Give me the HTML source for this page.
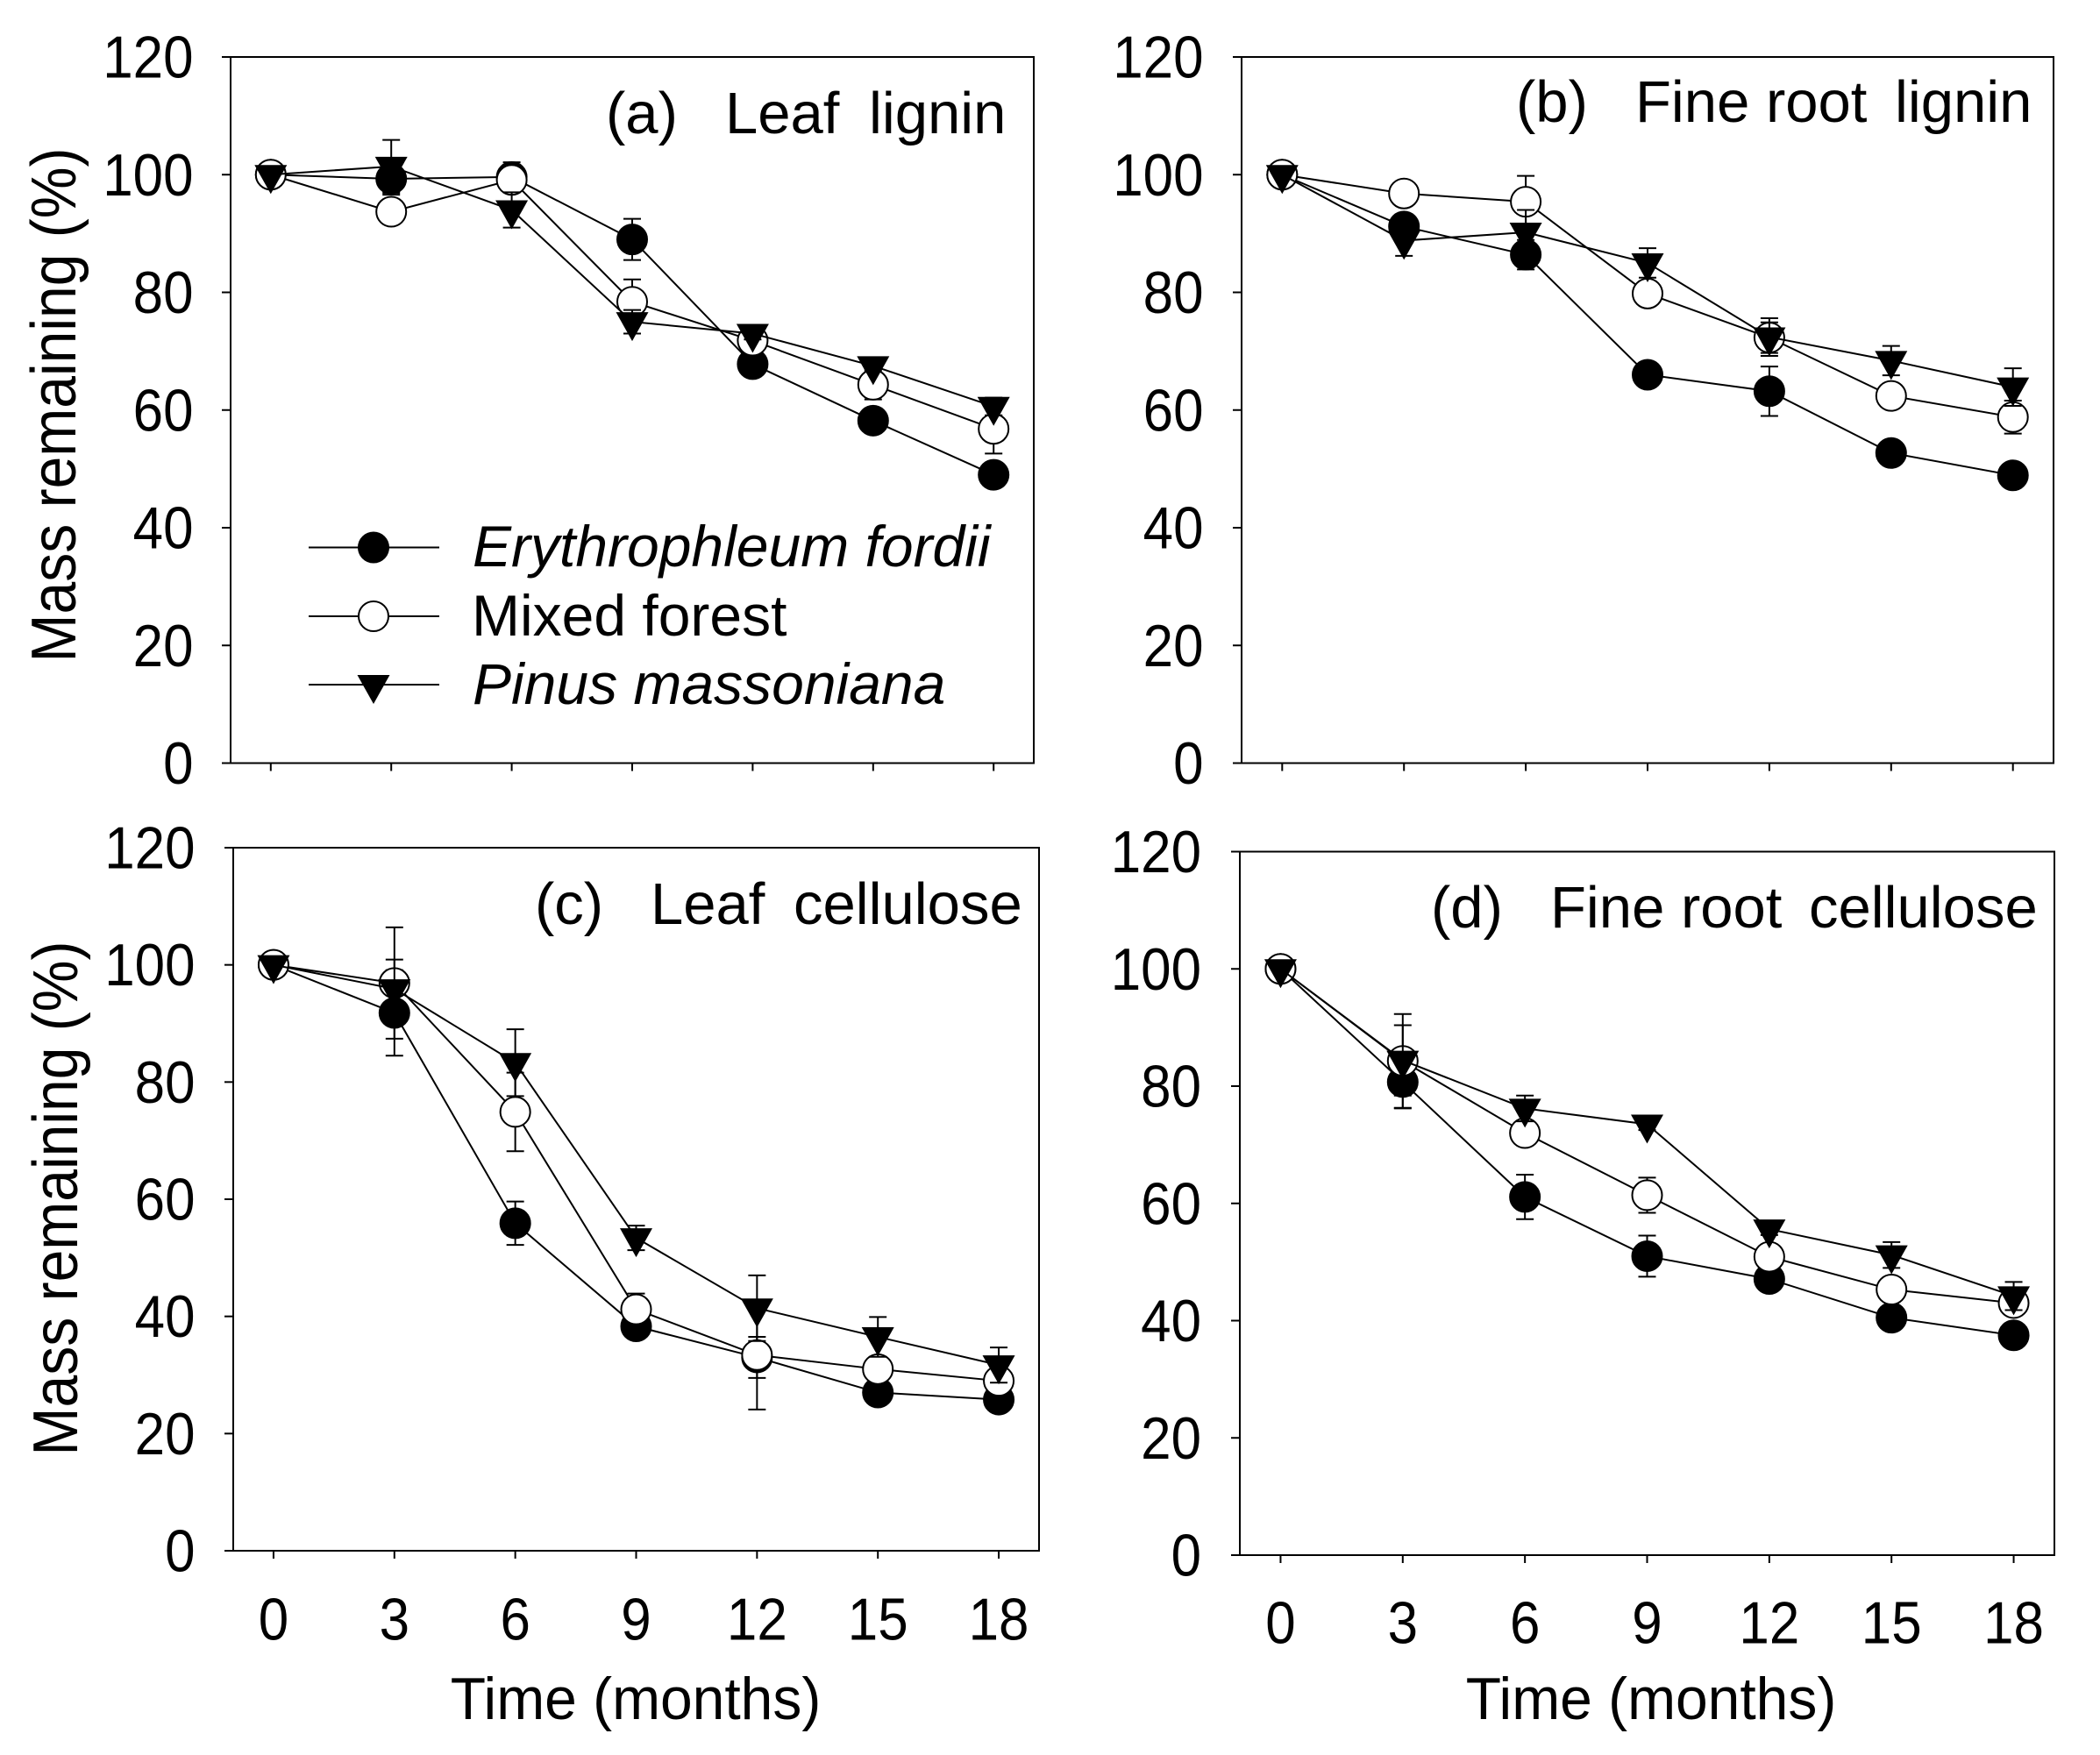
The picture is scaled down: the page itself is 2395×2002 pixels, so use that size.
<!DOCTYPE html>
<html lang="en">
<head>
<meta charset="utf-8">
<title>Mass remaining over time</title>
<style>
html,body{margin:0;padding:0;background:#fff;}
svg{display:block;font-family:"Liberation Sans",Arial,sans-serif;fill:#000;}
</style>
</head>
<body>
<svg id="chart" xmlns="http://www.w3.org/2000/svg" width="2395" height="2002" viewBox="0 0 2395 2002">
  <rect x="0" y="0" width="2395" height="2002" fill="#fff"/>

  <text y="152" font-size="67"><tspan x="691">(a)</tspan><tspan x="827">Leaf</tspan><tspan x="991">lignin</tspan></text>
  <text y="139" font-size="67"><tspan x="1729">(b)</tspan><tspan x="1865">Fine root</tspan><tspan x="2161">lignin</tspan></text>
  <text y="1054" font-size="67"><tspan x="610">(c)</tspan><tspan x="742">Leaf</tspan><tspan x="905">cellulose</tspan></text>
  <text y="1058" font-size="67"><tspan x="1632">(d)</tspan><tspan x="1768">Fine root</tspan><tspan x="2063">cellulose</tspan></text>

  <text font-size="72" text-anchor="middle" transform="translate(86 462) rotate(-90) scale(.917 1)">Mass remaining (%)</text>
  <text font-size="72" text-anchor="middle" transform="translate(88 1367) rotate(-90) scale(.917 1)">Mass remaining (%)</text>
  <text font-size="68" text-anchor="middle" transform="translate(725 1961) scale(.97 1)">Time (months)</text>
  <text font-size="68" text-anchor="middle" transform="translate(1883 1961) scale(.97 1)">Time (months)</text>

  <g>
    <g>
      <line x1="352" x2="501" y1="624.5" y2="624.5" stroke="#000" stroke-width="2"/>
      <circle cx="426" cy="624.5" r="17" fill="#000" stroke="#000" stroke-width="2"/>
      <text x="539" y="646" font-size="66" font-style="italic">Erythrophleum fordii</text>
    </g>
    <g>
      <line x1="352" x2="501" y1="703" y2="703" stroke="#000" stroke-width="2"/>
      <circle cx="426" cy="703" r="17" fill="#fff" stroke="#000" stroke-width="2"/>
      <text x="538" y="725" font-size="66">Mixed forest</text>
    </g>
    <g>
      <line x1="352" x2="501" y1="781" y2="781" stroke="#000" stroke-width="2"/>
      <polygon points="407.5,770 444.5,770 426,803" fill="#000"/>
      <text x="539" y="803" font-size="66" font-style="italic">Pinus massoniana</text>
    </g>
  </g>
</svg>
<script>
// Shared axis values
const months = [0, 3, 6, 9, 12, 15, 18];
const yTickValues = [0, 20, 40, 60, 80, 100, 120];

// Panel (a) Leaf lignin
const leafLigninErythro = [100, 99.3, 99.6, 89, 67.8, 58.2, 49];
const leafLigninMixed = [100, 93.7, 99.1, 78.4, 71.8, 64.3, 56.8];
const leafLigninPinus = [100, 101.4, 94, 75, 73, 67.5, 60.6];
const leafLigninErythroErr = [0, 2.7, 2.5, 3.5, 1.5, 1.5, 1];
const leafLigninMixedErr = [0, 1, 1, 3.8, 1.5, 2.5, 4.2];
const leafLigninPinusErr = [0, 4.5, 3, 2, 1, 1, 1.5];

// Panel (b) Fine root lignin
const rootLigninErythro = [100, 91.2, 86.4, 66, 63.2, 52.7, 48.9];
const rootLigninMixed = [100, 96.8, 95.4, 79.8, 72.3, 62.4, 58.8];
const rootLigninPinus = [100, 88.8, 90.2, 85, 72.4, 68.4, 63.9];
const rootLigninErythroErr = [0, 2, 2.5, 1, 4.2, 1, 1];
const rootLigninMixedErr = [0, 1, 4.4, 1.5, 2.6, 1.5, 2.8];
const rootLigninPinusErr = [0, 2.6, 3.8, 2.5, 3.2, 2.5, 3.2];

// Panel (c) Leaf cellulose
const leafCelluloseErythro = [100, 91.8, 55.9, 38.3, 33, 27, 25.8];
const leafCelluloseMixed = [100, 96.9, 74.9, 41.2, 33.4, 31, 29];
const leafCellulosePinus = [100, 95.9, 83.3, 53.4, 41.4, 36.5, 31.7];
const leafCelluloseErythroErr = [0, 7.3, 3.7, 1, 3.5, 1, 1];
const leafCelluloseMixedErr = [0, 9.5, 6.7, 2.7, 9.3, 2, 2];
const leafCellulosePinusErr = [0, 5, 5.7, 2.1, 5.6, 3.4, 3];

// Panel (d) Fine root cellulose
const rootCelluloseErythro = [100, 80.7, 61.1, 51, 47.1, 40.5, 37.5];
const rootCelluloseMixed = [100, 84.3, 72, 61.4, 50.9, 45.3, 43];
const rootCellulosePinus = [100, 84.4, 76.2, 73.5, 55.6, 51.2, 44.2];
const rootCelluloseErythroErr = [0, 4.5, 3.8, 3.5, 1, 1, 1];
const rootCelluloseMixedErr = [0, 8, 2, 3, 1, 1, 2];
const rootCellulosePinusErr = [0, 6, 2.2, 1, 1, 2.2, 2.4];

const NS = 'http://www.w3.org/2000/svg';
const svg = document.getElementById('chart');

function make(tag, parent, attrs) {
  const node = document.createElementNS(NS, tag);
  for (const key in attrs) node.setAttribute(key, attrs[key]);
  parent.appendChild(node);
  return node;
}

function drawPanel(cfg) {
  const xScale = m => cfg.left + (m + 1) / 20 * (cfg.right - cfg.left);
  const yScale = v => cfg.bottom - v / 120 * (cfg.bottom - cfg.top);

  const panel = make('g', svg, {});
  
  

  const frame = make('rect', panel, {x: cfg.left, y: cfg.top, width: cfg.right - cfg.left, height: cfg.bottom - cfg.top, fill: 'none', stroke: '#000', 'stroke-width': 2});
  
  

  yTickValues.forEach(v => {
    const tick = make('line', panel, {x1: cfg.left - 10, x2: cfg.left, y1: yScale(v), y2: yScale(v), stroke: '#000', 'stroke-width': 2});
    
    
    const label = make('text', panel, {transform: 'translate(' + cfg.yLabelX + ' ' + (yScale(v) + 23.5) + ') scale(.91 1)', 'font-size': 68, 'text-anchor': 'end'});
    
    
    label.textContent = String(v);
  });

  months.forEach(m => {
    const tick = make('line', panel, {x1: xScale(m), x2: xScale(m), y1: cfg.bottom, y2: cfg.bottom + 9, stroke: '#000', 'stroke-width': 2});
    
    
    if (cfg.xLabelY) {
      const label = make('text', panel, {transform: 'translate(' + xScale(m) + ' ' + cfg.xLabelY + ') scale(.91 1)', 'font-size': 68, 'text-anchor': 'middle'});
      
      
      label.textContent = String(m);
    }
  });

  cfg.series.forEach(s => {
    const group = make('g', panel, {});
    
    

    s.values.forEach((v, i) => {
      const err = s.errors[i];
      if (!err) return;
      const x = xScale(months[i]);
      const bar = make('path', group, {
        d: 'M' + x + ' ' + yScale(v + err) + 'V' + yScale(v - err) +
           'M' + (x - 10) + ' ' + yScale(v + err) + 'H' + (x + 10) +
           'M' + (x - 10) + ' ' + yScale(v - err) + 'H' + (x + 10),
        fill: 'none', stroke: '#000', 'stroke-width': 2
      });
      
      
    });

    const line = make('polyline', group, {
      points: s.values.map((v, i) => xScale(months[i]) + ',' + yScale(v)).join(' '),
      fill: 'none', stroke: '#000', 'stroke-width': 2
    });
    
    

    s.values.forEach((v, i) => {
      const x = xScale(months[i]);
      const y = yScale(v);
      let mark;
      if (s.shape === 'triangle') {
        mark = make('polygon', group, {points: (x - 18.5) + ',' + (y - 11) + ' ' + (x + 18.5) + ',' + (y - 11) + ' ' + x + ',' + (y + 22), fill: '#000'});
      } else {
        mark = make('circle', group, {cx: x, cy: y, r: 17, fill: s.fill, stroke: '#000', 'stroke-width': 2});
      }
      
      
    });
  });
}

function seriesSet(erythro, erythroErr, mixed, mixedErr, pinus, pinusErr) {
  return [
    {name: 'erythrophleum-fordii', shape: 'circle', fill: '#000', values: erythro, errors: erythroErr},
    {name: 'mixed-forest', shape: 'circle', fill: '#fff', values: mixed, errors: mixedErr},
    {name: 'pinus-massoniana', shape: 'triangle', values: pinus, errors: pinusErr}
  ];
}

drawPanel({id: 'a', left: 263, right: 1179, top: 65, bottom: 870.5, yLabelX: 220.5,
  series: seriesSet(leafLigninErythro, leafLigninErythroErr, leafLigninMixed, leafLigninMixedErr, leafLigninPinus, leafLigninPinusErr)});
drawPanel({id: 'b', left: 1416, right: 2342, top: 65, bottom: 870.5, yLabelX: 1372.5,
  series: seriesSet(rootLigninErythro, rootLigninErythroErr, rootLigninMixed, rootLigninMixedErr, rootLigninPinus, rootLigninPinusErr)});
drawPanel({id: 'c', left: 266, right: 1185, top: 967, bottom: 1769, yLabelX: 222.5, xLabelY: 1870.5,
  series: seriesSet(leafCelluloseErythro, leafCelluloseErythroErr, leafCelluloseMixed, leafCelluloseMixedErr, leafCellulosePinus, leafCellulosePinusErr)});
drawPanel({id: 'd', left: 1414, right: 2343, top: 971.5, bottom: 1774, yLabelX: 1370, xLabelY: 1874.5,
  series: seriesSet(rootCelluloseErythro, rootCelluloseErythroErr, rootCelluloseMixed, rootCelluloseMixedErr, rootCellulosePinus, rootCellulosePinusErr)});
</script>
</body>
</html>
